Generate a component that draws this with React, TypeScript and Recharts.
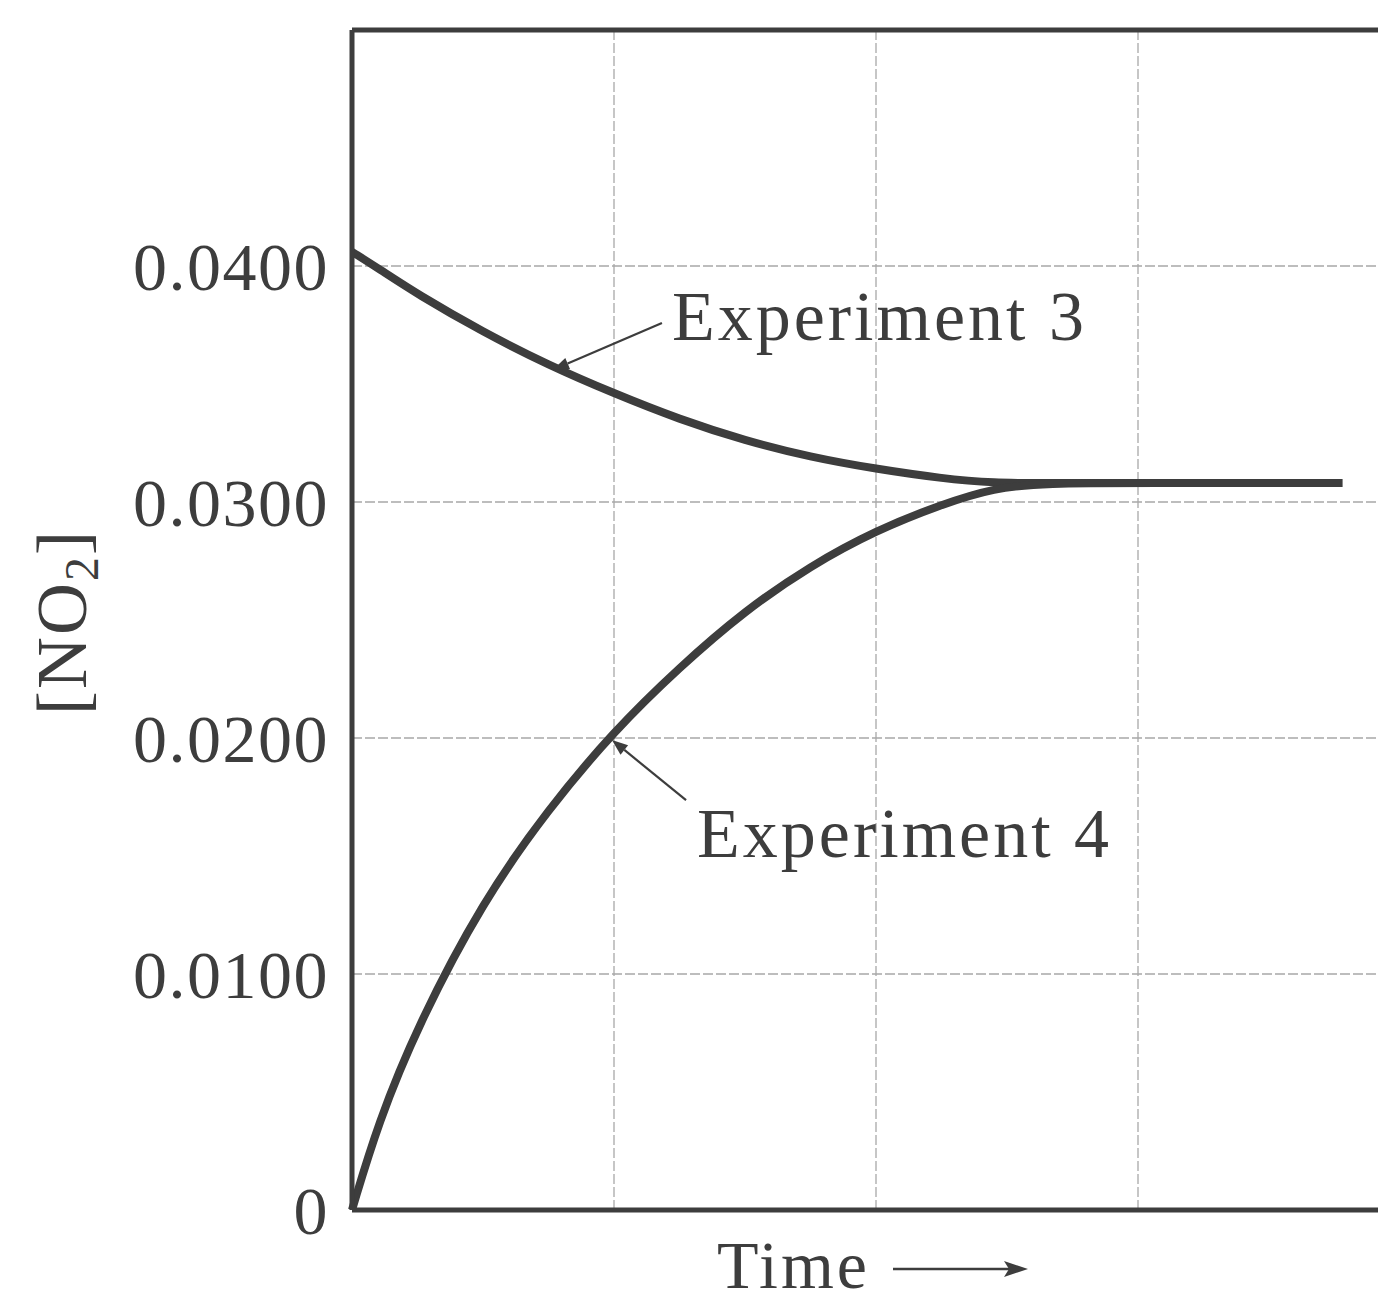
import React from 'react';
import {
  LineChart,
  Line,
  XAxis,
  YAxis,
  CartesianGrid,
  ReferenceLine,
  ReferenceDot,
} from 'recharts';

// time points (arbitrary units, one grid column = 1)
const time = [0, 0.1, 0.25, 0.5, 0.75, 1, 1.25, 1.5, 1.75, 2, 2.25, 2.45, 2.65, 3, 3.78];
const exp3 = [0.0406, 0.0399, 0.0388, 0.0372, 0.0358, 0.0346, 0.0335, 0.0326, 0.0319, 0.0314, 0.031, 0.0308, 0.0308, 0.0308, 0.0308];
const exp4 = [0, 0.0037, 0.0078, 0.0131, 0.017, 0.0203, 0.023, 0.0254, 0.0273, 0.0288, 0.0299, 0.0306, 0.0308, 0.0308, 0.0308];

const yTicks = [0, 0.01, 0.02, 0.03, 0.04];
const xTicks = [0, 1, 2, 3, 4];

const data = time.map((t, i) => ({ t, exp3: exp3[i], exp4: exp4[i] }));

const INK = '#3d3d3d';
const FONT = '"Liberation Serif", "Times New Roman", serif';

const ArrowShape = (props: any) => {
  const { x1, y1, x2, y2 } = props;
  if (x1 == null) return null;
  const ang = Math.atan2(y2 - y1, x2 - x1);
  const len = 16;
  const w = 6;
  const bx = x2 - len * Math.cos(ang);
  const by = y2 - len * Math.sin(ang);
  const px = -Math.sin(ang) * w;
  const py = Math.cos(ang) * w;
  return (
    <g>
      <line x1={x1} y1={y1} x2={bx} y2={by} stroke={INK} strokeWidth={2.2} />
      <polygon points={`${x2},${y2} ${bx + px},${by + py} ${bx - px},${by - py}`} fill={INK} />
    </g>
  );
};

const makeText = (label: string) => (props: any) => {
  const { cx, cy } = props;
  return (
    <text x={cx} y={cy} fontFamily={FONT} fontSize={70} letterSpacing={3} fill={INK} textAnchor="start">
      {label}
    </text>
  );
};

const YLabel = () => (
  <text
    x={86}
    y={622}
    transform="rotate(-90, 86, 622)"
    fontFamily={FONT}
    fontSize={72}
    letterSpacing={2}
    fill={INK}
    textAnchor="middle"
  >
    [NO<tspan fontSize={48} dy={12}>2</tspan>
    <tspan dy={-12}>]</tspan>
  </text>
);

const TimeLabel = (props: any) => {
  const vb = props.viewBox;
  const cx = 876;
  const y = vb.y + 78;
  return (
    <g>
      <text x={cx - 6} y={y} fontFamily={FONT} fontSize={68} letterSpacing={3} fill={INK} textAnchor="end">
        Time
      </text>
      <line x1={cx + 17} y1={y - 19} x2={cx + 135} y2={y - 19} stroke={INK} strokeWidth={2.5} />
      <polygon points={`${cx + 152},${y - 19} ${cx + 128},${y - 27} ${cx + 133},${y - 19} ${cx + 128},${y - 11}`} fill={INK} />
    </g>
  );
};

const NoTick = () => <g />;

const fmt = (v: number) => (v === 0 ? '0' : v.toFixed(4));

export default function App() {
  return (
    <div style={{ position: 'absolute', left: 0, top: 0, width: 1378, height: 1300, overflow: 'hidden', background: '#fff' }}>
      <LineChart width={1420} height={1300} data={data} margin={{ top: 30, right: 20, bottom: 0, left: 0 }}>
        <CartesianGrid stroke="#a8a8a8" strokeWidth={1.3} strokeDasharray="10 3" />
        <XAxis
          dataKey="t"
          type="number"
          domain={[0, 4]}
          ticks={xTicks}
          tick={NoTick}
          tickLine={false}
          height={90}
          axisLine={{ stroke: INK, strokeWidth: 5 }}
          label={{ content: TimeLabel }}
        />
        <YAxis
          type="number"
          domain={[0, 0.05]}
          ticks={yTicks}
          tickFormatter={fmt}
          tickLine={false}
          width={352}
          tickMargin={17}
          axisLine={{ stroke: INK, strokeWidth: 5 }}
          tick={{ fill: INK, fontSize: 68, fontFamily: FONT, letterSpacing: 1.5 }}
          label={{ content: YLabel }}
        />
        <ReferenceLine y={0.05} stroke={INK} strokeWidth={5} />
        <Line type="basis" dataKey="exp3" stroke={INK} strokeWidth={8} dot={false} isAnimationActive={false} />
        <Line type="basis" dataKey="exp4" stroke={INK} strokeWidth={8} dot={false} isAnimationActive={false} />
        <ReferenceLine
          segment={[{ x: 1.183, y: 0.03758 }, { x: 0.767, y: 0.0356 }]}
          shape={ArrowShape}
        />
        <ReferenceLine
          segment={[{ x: 1.275, y: 0.01737 }, { x: 0.992, y: 0.01992 }]}
          shape={ArrowShape}
        />
        <ReferenceDot x={1.221} y={0.03686} shape={makeText('Experiment 3')} />
        <ReferenceDot x={1.317} y={0.01496} shape={makeText('Experiment 4')} />
      </LineChart>
    </div>
  );
}
